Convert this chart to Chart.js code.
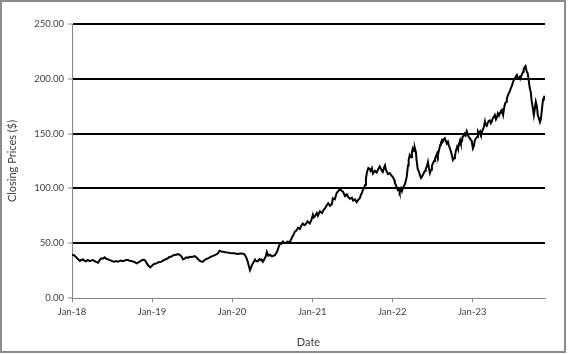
<!DOCTYPE html>
<html>
<head>
<meta charset="utf-8">
<script src="https://cdn.jsdelivr.net/npm/chart.js@4.4.1/dist/chart.umd.min.js"></script>
<style>
html,body{margin:0;padding:0;background:#fff}
#wrap{position:relative;width:568px;height:354px}
#priceChart{display:block}
#frame{position:absolute;left:0;top:0;width:566px;height:353px;box-sizing:border-box;border:2px solid #8c8c8c;pointer-events:none}
</style>
</head>
<body>
<div id="wrap">
<canvas id="priceChart" width="568" height="354"></canvas>
<div id="frame"></div>
</div>
<script>

// closing prices, roughly weekly
const years=["2018","2019","2020","2021","2022","2023"]

const days2018=['01-02','01-10','01-19','01-29','02-06','02-12','02-20','02-27','03-05','03-14','03-23','03-29','04-06','04-13','04-20','04-30','05-07','05-14','05-22','05-30','06-05','06-14','06-22','06-29','07-06','07-13','07-20','07-30','08-08','08-13','08-21','08-29','09-04','09-13','09-21','09-28','10-05','10-12','10-22','10-29','11-07','11-13','11-20','11-28','12-06','12-13','12-24','12-31']
const prices2018=[39.5,39.0,37.5,35.3,33.8,34.7,35.2,34.1,33.5,34.7,33.6,34.1,34.6,33.8,33.0,32.2,34.5,36.2,35.8,37.1,36.0,35.3,34.6,34.1,33.4,33.1,33.7,33.1,33.9,34.1,33.5,34.1,34.6,34.7,34.0,33.8,33.3,33.1,31.6,32.2,33.4,34.1,34.9,34.7,32.5,30.1,28.0,29.2]

const days2019=['01-04','01-11','01-21','01-30','02-12','02-20','02-27','03-07','03-14','03-21','03-29','04-05','04-12','04-22','04-29','05-06','05-14','05-22','05-30','06-06','06-14','06-21','07-02','07-15','07-25','08-06','08-13','08-21','08-29','09-05','09-13','09-20','09-27','10-07','10-14','10-21','10-29','11-05','11-13','11-20','12-02','12-13','12-24']
const prices2019=[30.1,31.0,31.6,32.6,33.1,34.2,34.7,35.6,36.2,37.4,37.7,38.6,39.2,39.5,40.1,39.5,38.3,35.3,36.0,37.1,36.6,37.7,37.5,38.3,36.5,34.1,33.2,33.1,34.7,35.5,36.2,36.8,37.7,38.5,39.2,39.9,40.8,43.2,42.5,42.3,41.8,41.4,41.0]

const days2020=['01-03','01-13','01-21','01-28','02-06','02-14','02-24','02-28','03-06','03-13','03-18','03-23','03-27','04-01','04-08','04-15','04-21','04-28','05-05','05-12','05-15','05-21','05-28','06-04','06-08','06-15','06-22','07-01','07-08','07-15','07-24','07-31','08-07','08-13','08-20','08-27','09-03','09-11','09-21','09-30','10-07','10-14','10-21','10-28','11-06','11-12','11-19','11-26','12-03','12-11','12-21','12-28']
const prices2020=[40.9,40.8,40.3,40.1,40.6,40.5,40.2,39.5,37.0,33.0,29.0,25.5,27.5,30.0,32.5,35.0,33.5,33.5,35.5,34.5,35.0,33.0,35.5,38.5,42.0,38.5,39.5,38.0,38.5,39.0,42.0,46.0,50.0,49.5,51.5,50.0,50.5,51.5,51.0,55.0,57.5,60.5,61.5,64.0,63.0,66.0,68.0,66.5,67.5,70.0,68.0,71.0]

const days2021=['01-04','01-08','01-13','01-22','01-27','02-05','02-15','02-22','03-01','03-08','03-15','03-23','04-01','04-05','04-14','04-23','04-30','05-07','05-14','05-21','05-31','06-08','06-15','06-22','07-01','07-06','07-15','07-23','07-30','08-06','08-11','08-16','08-20','08-25','08-30','09-03','09-08','09-14','09-21','09-24','09-30','10-05','10-14','10-22','10-29','11-05','11-10','11-15','11-19','11-24','11-29','12-03','12-13','12-21','12-27']
const prices2021=[76.0,73.5,74.5,77.5,75.0,79.0,77.5,80.5,82.0,84.5,86.5,84.0,86.0,91.0,90.0,96.0,97.5,99.5,98.0,97.0,93.0,94.5,92.0,90.5,91.5,89.0,90.0,87.5,89.5,91.0,94.0,96.0,98.5,100.0,103.0,109.0,115.0,118.5,117.5,116.0,118.5,113.5,116.0,114.5,117.5,120.0,118.0,116.0,115.0,118.5,121.0,117.0,113.0,114.0,112.0]

const days2022=['01-03','01-10','01-13','01-18','01-21','01-27','02-01','02-04','02-10','02-14','02-18','02-23','02-28','03-04','03-08','03-14','03-17','03-22','03-28','04-01','04-05','04-11','04-14','04-19','04-22','04-27','05-03','05-06','05-12','05-16','05-20','05-26','05-31','06-03','06-08','06-13','06-17','06-22','06-27','07-01','07-06','07-11','07-15','07-19','07-25','07-28','08-02','08-08','08-11','08-16','08-19','08-24','08-29','09-02','09-07','09-12','09-16','09-21','09-26','09-30','10-05','10-10','10-14','10-18','10-24','10-28','11-01','11-07','11-10','11-15','11-18','11-23','11-28','12-02','12-07','12-12','12-16','12-21','12-27','12-30']
const prices2022=[110.5,108.0,105.0,103.0,101.0,98.5,99.5,97.0,100.0,97.5,100.0,102.0,104.0,107.0,110.5,121.0,126.0,130.5,128.5,133.5,136.6,134.0,137.0,133.0,126.0,118.0,115.0,113.0,109.5,110.5,112.0,114.5,116.0,118.0,120.0,124.0,119.0,114.0,117.0,120.5,123.0,125.0,127.0,129.0,132.0,130.0,134.5,139.5,141.5,144.0,142.5,144.5,145.7,143.5,141.0,142.6,139.5,136.6,133.5,130.5,126.0,127.5,129.0,134.0,138.0,136.0,140.0,144.0,141.5,143.0,147.0,148.0,150.0,148.5,152.0,148.7,147.0,145.7,144.0,142.6]

const days2023=['01-04','01-09','01-13','01-18','01-23','01-27','02-01','02-06','02-10','02-14','02-17','02-23','02-28','03-03','03-08','03-13','03-17','03-22','03-27','03-31','04-05','04-10','04-14','04-19','04-24','04-28','05-03','05-08','05-12','05-16','05-22','05-26','05-31','06-05','06-08','06-13','06-16','06-22','06-26','06-30','07-06','07-10','07-14','07-19','07-24','07-28','08-02','08-07','08-11','08-15','08-21','08-24','08-29','09-01','09-06','09-11','09-15','09-20','09-25','09-29','10-04','10-09','10-13','10-18','10-23','10-27','11-01','11-06','11-10','11-15','11-20','11-24','11-28']
const prices2023=[136.6,139.0,144.0,145.5,147.0,152.0,150.0,152.0,149.5,151.0,153.0,156.0,161.0,158.0,157.0,160.0,161.5,162.0,159.5,161.0,164.0,165.5,167.0,163.0,165.0,168.5,166.5,169.0,170.5,171.5,167.0,173.0,177.6,179.0,182.0,185.0,186.5,189.0,191.5,193.0,197.0,199.0,200.5,202.0,203.5,201.0,200.5,202.0,201.5,203.5,206.5,209.0,211.0,211.7,207.0,205.0,200.0,192.0,188.0,180.0,174.0,167.0,172.0,179.0,175.0,167.0,164.0,160.5,163.0,172.0,181.0,183.0,184.5]

const tickDates=['2018-01-01','2019-01-01','2020-01-01','2021-01-01','2022-01-01','2023-01-01']
const tickLabels=['Jan-18','Jan-19','Jan-20','Jan-21','Jan-22','Jan-23']

const allDays=[days2018,days2019,days2020,days2021,days2022,days2023]
const allPrices=[prices2018,prices2019,prices2020,prices2021,prices2022,prices2023]

const points=[]
years.forEach((yr,k)=>{
allDays[k].forEach((md,i)=>{
points.push({x:Date.parse(yr+"-"+md),y:allPrices[k][i]})
})
})

const axisGrey="#868686"
const textGrey="#404040"
const tickFont={family:"Lato",size:9.5}
const titleFont={family:"Lato",size:11}

const ctx=document.getElementById("priceChart")

const priceChart=new Chart(ctx,{

type:"line",

data:{
datasets:[{
label:"Closing Price",
data:points,
borderColor:"#000",
borderWidth:2,
pointRadius:0,
tension:0
}]
},

options:{
responsive:false,
animation:false,
layout:{padding:{top:24,right:23,left:0,bottom:0}},
plugins:{
legend:{display:false},
tooltip:{enabled:false}
},
scales:{
x:{
type:"linear",
min:Date.parse("2018-01-01"),
max:Date.parse("2023-11-29"),
afterBuildTicks:axis=>{axis.ticks=tickDates.map(d=>({value:Date.parse(d)}))},
afterFit:axis=>{axis.height=56},
ticks:{
autoSkip:false,
maxRotation:0,
padding:4,
color:textGrey,
font:tickFont,
callback:(v,i)=>tickLabels[i]
},
grid:{drawOnChartArea:false,color:axisGrey,tickLength:4},
border:{color:axisGrey},
title:{display:true,text:"Date",color:textGrey,font:titleFont,padding:{top:0,bottom:5}}
},
y:{
min:0,
max:250,
afterFit:axis=>{axis.width=72},
ticks:{
stepSize:50,
padding:4,
color:textGrey,
font:tickFont,
callback:v=>v.toFixed(2)
},
grid:{
color:c=>c.tick.value===0?"rgba(0,0,0,0)":"#000",
lineWidth:2,
tickColor:axisGrey,
tickWidth:1,
tickLength:4
},
border:{color:axisGrey},
title:{display:true,text:"Closing Prices ($)",color:textGrey,font:titleFont,padding:{top:6,bottom:0}}
}
}
}

})

</script>
</body>
</html>
